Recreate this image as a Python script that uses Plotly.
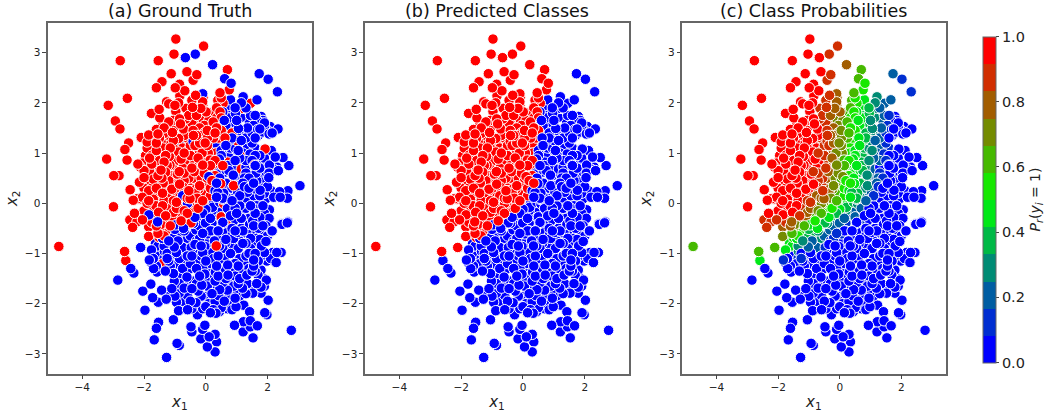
import plotly.graph_objects as go

# Points, grouped by the colour band in panel (c): (x1, x2)
p96 = [(-0.97,3.27),(-1.03,2.97),(-0.68,2.90),(-2.77,2.84),(-1.54,2.84),(-1.12,2.58),(-0.61,2.62),(-1.42,2.42),(-1.60,2.30),
 (-0.85,2.37),(-0.99,2.30),(-0.68,2.24),(-0.84,2.14),(-3.16,1.95),(-2.54,2.09),(-2.93,1.64),(-2.78,1.48),(-2.50,1.20),(-2.62,1.07),
 (-3.21,0.88),(-2.55,0.86),(-2.98,0.55),(-2.81,0.55),(-2.45,0.27),(-2.99,-0.07),(-1.76,1.79),(-1.51,1.87),(-1.49,1.70),(-1.27,2.02),
 (-1.20,1.98),(-0.97,1.83),(-1.00,1.95),(-0.88,2.00),(-0.95,1.75),(-0.85,1.68),(-1.05,1.65),(-1.60,1.47),(-1.35,1.50),(-1.02,1.52),
 (-0.82,1.58),(-0.72,1.48),(-2.09,1.31),(-1.85,1.36),(-1.72,1.28),(-1.55,1.38),(-1.35,1.39),(-1.20,1.28),(-1.08,1.41),(-0.88,1.29),
 (-0.70,1.35),(-1.90,1.22),(-1.45,1.23),(-1.60,1.20),(-1.74,0.96),(-1.45,0.96),(-1.18,0.93),(-1.04,1.09),(-1.30,1.08),(-0.88,1.02),
 (-0.75,1.10),(-1.60,1.05),(-1.90,1.10),(-0.98,0.85),(-0.80,0.88),(-0.68,0.85),(-1.35,0.82),(-1.50,0.85),(-2.05,0.80),(-2.20,0.78),
 (-2.12,0.72),(-1.92,0.73),(-1.75,0.78),(-1.56,0.76),(-1.30,0.62),(-1.16,0.76),(-1.05,0.68),(-0.92,0.58),(-0.75,0.70),(-1.45,0.66),
 (-1.82,0.63),(-1.65,0.60),(-2.00,0.51),(-2.15,0.42),(-1.88,0.40),(-1.70,0.48),(-1.56,0.42),(-1.42,0.50),(-1.20,0.45),(-1.00,0.42),
 (-0.85,0.38),(-1.75,0.30),(-1.30,0.32),(-1.10,0.28),(-0.98,0.20),(-2.35,0.06),(-2.22,0.09),(-2.16,0.08),(-2.05,0.12),(-1.96,0.13),
 (-1.85,0.05),(-1.70,0.08),(-1.56,0.15),(-1.40,0.20),(-1.25,0.12),(-1.50,0.02),(-1.62,-0.05),(-1.75,-0.08),(-2.31,-0.20),(-2.00,-0.15),
 (-1.70,-0.25),(-1.53,-0.18),(-1.30,-0.12),(-1.40,1.60),(-1.20,1.62),(-1.25,1.15),(-1.15,1.10),(-1.05,1.25),(-1.95,0.95),(-2.00,0.65),
 (-1.70,1.10),(-1.30,0.95),(-1.25,0.75),(-1.10,0.55),(-1.60,0.30),(-1.45,0.30),(-1.15,0.20),(-1.85,0.25),(-2.00,0.30),(-1.90,-0.00),
 (-1.35,0.05),(-1.85,0.15),(-1.40,-0.05),(-1.65,0.20),(-1.55,0.55),(-1.38,0.40),(-1.15,0.35),(-1.82,0.90),(-1.40,1.10),(-1.15,1.45),(-1.50,1.30)]
p88 = [(-0.07,3.13),(-0.29,2.56),(-0.41,2.45),(-0.33,2.15),(-0.64,1.89),(-0.43,1.91),(-0.55,1.75),(-0.60,1.55),(-0.41,1.45),(-0.56,1.06),
 (-0.60,1.30),(-0.50,0.95),(-0.52,0.85),(-0.86,0.63),(-0.73,0.32),(-1.02,0.21),(-0.85,0.12),(-0.70,0.45),(-0.60,0.60),(-0.62,0.20),
 (-1.15,0.00),(-0.95,0.02),(-0.72,-0.00),(-2.46,-0.33),(-2.37,-0.48),(-2.23,-0.37),(-2.05,-0.33),(-1.75,-0.38),(-1.50,-0.25),(-1.30,-0.25),
 (-1.08,-0.15),(-0.55,0.38),(-0.45,2.05),(-0.45,1.60),(-0.40,1.35),(-0.50,1.15),(-0.40,0.95),(-0.45,0.70),(-0.55,0.50),(-0.55,0.25),
 (-0.70,0.12),(-0.85,0.25),(-1.05,0.05),(-1.25,-0.05),(-1.20,0.10),(-0.35,1.15),(-0.65,1.68),(-0.70,1.00),(-0.70,0.60),(-0.85,0.50)]
p79 = [(-0.09,2.11),(-0.16,1.89),(0.01,1.82),(-0.16,1.68),(-0.30,1.75),(-0.26,1.05),(-0.30,1.35),(-0.20,1.50),(-0.35,0.75),(-0.37,0.63),
 (-0.40,0.50),(-0.51,0.09),(-0.30,0.30),(-0.60,-0.05),(-0.95,-0.10),(-0.80,-0.05),(-1.40,-0.17),(-1.10,-0.28),(-1.85,-0.47),(-1.60,-0.45),
 (-1.30,-0.35),(-0.45,-0.02),(-0.20,1.20),(-0.10,1.95),(-0.25,1.60),(-0.15,1.35),(-0.20,1.05),(-0.25,0.90),(-0.20,0.70),(-0.28,0.45),
 (-0.35,0.20),(-0.45,0.10),(-0.60,0.10),(-0.75,-0.10),(-1.25,-0.25),(-1.05,-0.18),(-1.60,-0.30),(-0.15,1.75),(-0.10,2.02),(-0.30,1.45)]
p71 = [(0.06,1.31),(0.11,1.43),(-0.10,0.76),(-0.23,0.28),(-0.05,0.40),(-1.85,-0.66),(-0.05,1.55),(-0.02,1.20),(-0.12,1.00),(-0.08,1.65),
 (-0.28,0.10),(-0.55,-0.18),(-0.35,-0.08),(-1.20,-0.42),(0.10,1.65),(0.05,1.45),(0.08,1.00),(0.00,0.85),(-0.05,0.60),(-0.15,0.50),
 (-0.20,0.35),(-0.30,0.02),(-0.50,-0.08),(-0.70,-0.15),(-0.90,-0.25),(-1.05,-0.30),(-1.45,-0.42),(-1.50,-0.52),(0.05,1.15),(-0.05,1.40)]
p63 = [(0.70,2.66),(0.46,2.20),(0.39,2.05),(0.24,1.62),(0.14,0.86),(-1.29,-0.55),(-4.76,-0.86),(-2.63,-0.96),(0.20,1.10),(0.05,0.70),
 (-0.05,0.18),(-0.10,0.05),(-0.20,-0.12),(0.16,1.80),(-1.55,-0.60),(0.15,1.35),(0.30,1.40),(0.25,1.30),(0.10,1.00),(0.15,0.75),
 (0.05,0.50),(-0.08,0.30),(-0.20,0.02),(-0.45,-0.12),(-0.60,-0.20),(-0.85,-0.30),(-1.00,-0.40),(-1.15,-0.45),(0.35,1.90),(0.25,1.20)]
p54 = [(0.76,2.26),(0.56,1.99),(0.46,1.82),(0.33,1.00),(0.25,0.70),(0.15,0.30),(0.08,0.12),(-0.25,-0.10),(-0.50,-0.25),(-1.10,-0.50),
 (-1.35,-0.65),(-1.51,-0.68),(0.35,1.50),(0.50,2.10),(0.45,1.65),(0.50,1.45),(0.42,1.30),(0.40,1.15),(0.30,0.85),(0.30,0.55),(0.20,0.45),
 (0.15,0.15),(-0.10,-0.05),(-0.35,-0.18),(-0.60,-0.28),(-0.80,-0.35),(-0.95,-0.38),(-1.30,-0.55),(0.50,1.70),(0.35,1.70)]
p46 = [(0.80,2.06),(0.55,1.82),(0.65,1.55),(0.57,1.26),(0.44,0.88),(0.35,0.58),(0.30,0.25),(0.25,0.05),(-0.21,-0.05),(-0.97,-0.43),
 (-1.19,-0.41),(-0.72,-0.50),(-0.45,-0.35),(-1.63,-0.80),(-1.76,-0.93),(0.50,1.05),(0.70,1.90),(0.75,1.70),(0.60,1.45),(0.65,1.15),
 (0.50,0.95),(0.50,0.65),(0.45,0.50),(0.40,0.30),(0.35,0.12),(0.00,-0.12),(-0.15,-0.22),(-0.35,-0.28),(-0.60,-0.40),(-1.00,-0.48),
 (-1.40,-0.70),(-1.55,-0.85),(0.60,1.65)]
p38 = [(0.96,1.79),(0.76,0.91),(0.63,0.62),(0.79,1.26),(0.72,1.45),(0.39,0.21),(0.22,-0.08),(-1.08,-0.68),(0.58,0.20),(0.65,1.05),
 (-0.90,-0.60),(0.70,0.75),(0.90,1.60),(0.85,1.30),(0.80,1.10),(0.85,0.95),(0.75,0.65),(0.65,0.40),(0.55,0.10),(0.45,0.02),(0.10,-0.10),
 (-0.10,-0.20),(-0.30,-0.30),(-0.60,-0.42),(-1.00,-0.52),(-1.30,-0.75),(0.95,1.90),(0.80,1.75)]
p29 = [(1.03,1.29),(1.06,1.49),(1.21,2.12),(1.14,1.71),(0.89,0.56),(0.09,-0.20),(-0.79,-0.61),(0.95,1.10),(0.78,0.30),(0.95,0.85),
 (-1.34,-0.96),(-0.60,-0.70),(1.15,2.00),(1.10,1.95),(1.00,1.65),(1.00,1.40),(0.95,1.25),(1.05,1.05),(1.00,0.70),(0.90,0.45),(0.85,0.30),
 (0.70,0.10),(0.55,0.08),(0.20,-0.15),(0.00,-0.30),(-0.40,-0.40),(-0.70,-0.55),(-1.20,-0.75),(-1.35,-0.85),(1.10,1.35)]
p21 = [(1.73,2.58),(1.66,2.06),(1.41,1.63),(1.03,0.23),(1.14,0.70),(0.85,0.05),(-0.01,-0.39),(-0.32,-0.53),(-1.02,-0.87),(-0.75,-0.88),
 (1.20,1.00),(1.25,0.50),(0.60,-0.20),(1.15,1.25),(1.30,1.90),(1.45,1.75),(1.35,1.50),(1.30,1.30),(1.25,1.15),(1.30,0.85),(1.15,0.55),
 (1.20,0.40),(1.00,0.35),(0.90,0.10),(0.70,-0.10),(0.45,-0.15),(0.15,-0.30),(-0.20,-0.45),(-0.50,-0.65),(-0.90,-0.75),(-1.20,-0.85),
 (1.35,1.10),(1.10,0.90)]
p13 = [(2.02,2.47),(2.32,2.22),(1.68,1.47),(1.71,0.52),(1.25,0.33),(1.43,0.98),(0.31,-0.41),(-0.47,-0.88),(-1.35,-1.10),(-1.83,-1.13),
 (0.06,-0.61),(1.50,1.20),(1.40,0.50),(1.05,-0.05),(0.70,-0.30),(-0.20,-0.70),(1.55,1.55),(1.60,1.75),(1.50,1.40),(1.60,1.10),(1.50,0.85),
 (1.45,0.75),(1.55,0.60),(1.30,0.30),(1.25,0.15),(1.10,0.15),(0.95,-0.15),(0.80,-0.15),(0.55,-0.40),(0.20,-0.40),(-0.10,-0.60),(-0.30,-0.75),
 (-0.65,-0.95),(-1.25,-1.10),(1.35,0.85),(1.55,1.30),(1.30,0.60),(0.40,-0.25)]
p04 = [(1.79,1.73),(1.90,1.60),(1.72,1.62),(1.75,1.48),(1.85,1.42),(2.08,1.53),(2.34,1.48),(2.00,1.45),(2.15,1.40),(1.90,1.08),(2.12,1.05),
 (2.25,0.92),(2.50,0.91),(2.69,0.75),(2.06,0.76),(2.20,0.68),(2.04,0.51),(3.05,0.35),(2.66,0.25),(2.64,0.10),(2.39,0.23),(2.41,0.12),
 (2.20,0.12),(1.93,0.08),(1.76,0.26),(1.65,-0.05),(2.06,-0.13),(2.66,-0.37),(2.47,-0.42),(2.15,-0.55),(1.52,-0.35),(2.12,0.25),(2.00,0.33),
 (1.95,0.62),(1.85,0.80),(1.75,0.95),(2.30,0.72),(2.35,0.65),(1.62,0.28),(1.50,0.10),(1.35,0.22),(1.82,0.42),(1.55,0.40),(1.90,0.20),
 (1.70,0.05),(1.45,-0.05),(1.30,-0.10),(1.20,0.05),(1.05,0.10),(1.30,0.10),(1.00,-0.20),(1.15,-0.30),(1.30,-0.25),(1.60,-0.20),(1.75,-0.28),
 (1.85,-0.45),(0.75,-0.15),(0.90,-0.35),(0.55,-0.38),(1.42,-0.42),(1.70,-0.50),(1.95,-0.45),(2.05,-0.30),(0.40,-0.55),(0.85,-0.50),
 (1.06,-0.28),(1.03,-0.58),(1.33,-0.60),(1.55,-0.60),(0.20,-0.55),(0.44,-0.60),(0.65,-0.72),(0.90,-0.70),(1.10,-0.75),(1.30,-0.80),
 (1.58,-0.76),(1.95,-0.76),(2.14,-0.56),(2.45,-0.41),(2.64,-0.39),(1.75,-0.72),(1.85,-0.60),(0.28,-0.75),(0.05,-0.80),(-0.15,-0.85),
 (0.63,-0.80),(0.85,-0.85),(1.20,-0.80),(1.45,-0.90),(1.67,-0.94),(1.90,-0.98),(2.17,-0.98),(2.30,-0.98),(2.44,-0.98),(1.98,-1.15),
 (2.28,-1.18),(2.10,-1.10),(1.55,-1.13),(1.30,-1.05),(1.00,-1.03),(0.80,-1.00),(0.50,-0.98),(0.28,-0.93),(-0.03,-0.86),(-0.30,-1.00),
 (-0.60,-1.05),(-0.85,-1.10),(-1.10,-1.05),(-0.95,-0.98),(-0.26,-1.14),(0.00,-1.15),(0.25,-1.10),(0.50,-1.15),(0.71,-1.23),(0.95,-1.20),
 (1.20,-1.24),(1.40,-1.30),(1.79,-1.33),(0.35,-1.25),(-1.69,-1.30),(-1.58,-1.37),(-1.31,-1.35),(-1.15,-1.25),(-0.91,-1.21),(-0.75,-1.30),
 (-0.54,-1.31),(-0.30,-1.30),(-0.10,-1.30),(0.12,-1.35),(0.31,-1.37),(0.50,-1.40),(0.72,-1.43),(0.95,-1.45),(1.15,-1.38),(1.33,-1.43),
 (1.69,-1.43),(1.85,-1.49),(1.96,-1.53),(1.75,-1.52),(1.50,-1.35),(-1.02,-1.55),(-0.80,-1.48),(-0.61,-1.47),(-0.40,-1.55),(-0.20,-1.45),
 (-0.03,-1.41),(0.10,-1.50),(0.30,-1.55),(0.55,-1.58),(0.80,-1.55),(1.05,-1.60),(1.20,-1.55),(-0.13,-1.63),(0.05,-1.65),(0.25,-1.66),
 (0.45,-1.72),(0.70,-1.73),(0.92,-1.73),(1.19,-1.69),(1.49,-1.67),(1.79,-1.67),(1.52,-1.79),(1.79,-1.79),(-0.70,-1.69),(-0.86,-1.79),
 (-0.45,-1.70),(-0.25,-1.75),(-1.78,-1.61),(-2.04,-1.75),(-1.43,-1.73),(-1.25,-1.78),(-1.28,-1.91),(-0.95,-1.97),(-1.72,-1.88),
 (-1.54,-1.97),(-1.97,-2.13),(-0.88,-2.14),(-1.05,-2.32),(-1.53,-2.37),(-1.60,-2.49),(-1.67,-2.72),(-0.93,-2.79),(-0.86,-2.83),
 (-1.27,-3.07),(-0.48,-2.46),(-0.45,-2.56),(-0.03,-2.43),(-0.10,-2.51),(-0.16,-2.70),(0.11,-2.66),(0.30,-2.61),(0.35,-2.76),(0.05,-2.86),
 (0.30,-2.96),(0.93,-2.43),(1.22,-2.36),(1.21,-2.56),(1.44,-2.34),(1.44,-2.46),(1.67,-2.44),(1.53,-2.68),(2.77,-2.53),(1.91,-2.18),
 (1.98,-2.22),(2.02,-1.93),(1.42,-2.16),(1.23,-2.03),(0.98,-2.06),(0.87,-1.99),(-0.27,-2.22),(-0.59,-2.12),(-0.32,-1.98),(0.04,-1.85),
 (0.24,-2.12),(0.44,-2.16),(0.33,-2.19),(0.00,-2.06),(-0.59,-1.84),(0.42,-1.84),(0.44,-1.93),(0.95,-1.89),(-2.43,-1.30),(-2.33,-1.39),
 (-2.85,-1.53),(-1.75,-1.20),(-1.45,-1.20),(-1.20,-1.15),(1.55,0.15),(1.40,0.30),(1.62,0.60),(1.80,0.60),(1.60,0.95),(1.85,0.30),
 (1.45,0.70),(1.30,0.72),(1.20,0.20),(0.95,-0.10),(0.55,-0.55),(0.10,-1.00),(-0.50,-1.20),(1.10,-1.10),(1.60,-1.00),(0.65,-1.05),
 (0.15,-0.75),(-0.35,-0.82),(-0.65,-0.90),(-0.85,-0.92),(-1.25,-1.00),(-1.55,-1.05),(-1.70,-1.10),(-1.60,-1.25),(-1.40,-1.05),(-1.05,-1.40),
 (-0.70,-1.15),(-0.45,-1.05),(-0.15,-1.05),(0.10,-1.20),(0.40,-1.05),(0.60,-1.30),(0.85,-1.35),(1.05,-1.25),(1.30,-1.20),(1.55,-1.25),
 (1.70,-1.15),(1.80,-1.05),(1.40,-1.00),(1.05,-0.90),(0.75,-0.90),(0.45,-0.85),(0.70,-0.60),(1.20,-0.55),(1.45,-0.70),(1.65,-0.70),
 (1.80,-0.85),(2.00,-0.65),(0.95,-0.55),(0.55,-0.90),(0.20,-0.95),(-0.10,-0.98),(-0.85,-1.60),(-0.55,-1.60),(-0.30,-1.60),(0.00,-1.55),
 (0.40,-1.45),(0.65,-1.50),(0.90,-1.65),(1.10,-1.50),(1.35,-1.60),(1.65,-1.60),(1.60,-1.35),(1.90,-1.65),(-1.10,-1.70),(-1.00,-1.85),
 (-0.75,-1.95),(-0.50,-1.95),(-0.15,-1.85),(0.20,-1.80),(0.30,-1.95),(0.10,-2.00),(0.60,-1.95),(0.75,-1.85),(1.10,-1.85),(1.30,-1.80),
 (-0.10,-2.10),(0.15,-2.18),(0.50,-2.08),(0.70,-2.10),(0.85,-2.12),(-0.45,-2.10),(1.60,0.75),(1.75,0.70),(1.90,0.90),(2.05,0.60),(1.65,0.45),
 (1.45,0.30),(1.75,0.15),(1.95,0.38),(1.85,-0.05),(1.55,-0.10),(1.25,-0.15),(1.10,-0.05),(1.40,-0.30),(1.15,-0.50),(1.55,-0.45),(1.90,-0.20),
 (0.80,-0.25),(1.90,1.52),(1.85,1.65),(2.05,1.38),(1.70,1.35),(1.60,1.30),(0.35,-0.70),(0.50,-0.72),(0.15,-0.55)]

band_points = [p04, p13, p21, p29, p38, p46, p54, p63, p71, p79, p88, p96]
band_probs = [0.04, 0.125, 0.21, 0.29, 0.375, 0.46, 0.54, 0.63, 0.71, 0.79, 0.875, 0.96]

# Points whose true class differs from the predicted one: x1, x2, probability
flip_x1 = [-0.66,-0.34,0.22,0.61,0.82,-0.10,-0.85,-0.41,-0.53,0.10,-1.55,-1.39,-1.84,-0.61,-1.56,-2.11,0.30,-0.75,-0.65,-0.50,
 -0.59,-2.59,0.48,1.20,1.45,0.85,1.04,1.27,1.92,2.18,1.58,1.15,0.77,0.58,0.66,0.34,1.10,-0.17,-0.48,-1.39,1.13,1.00,0.90,0.62,0.70,0.95,0.55,0.50,
 0.35,0.60,0.30,0.90]
flip_x2 = [2.90,2.97,2.76,2.48,2.39,2.18,1.26,1.23,1.00,0.53,0.33,-0.01,-0.23,-0.21,-0.37,-0.88,1.20,0.15,0.10,0.25,
 0.00,-1.14,0.39,1.89,1.99,1.40,1.19,1.20,1.08,0.72,0.76,0.68,0.41,-0.01,-0.42,-0.85,0.96,-0.05,-0.39,-1.20,0.96,1.25,1.15,1.30,0.82,0.75,0.75,-0.27,
 0.40,1.70,-0.35,0.35]
flip_prob = [0.96,0.875,0.79,0.63,0.54,0.79,0.96,0.875,0.875,0.71,0.96,0.875,0.96,0.63,0.79,0.63,0.54,0.79,0.79,0.79,
 0.71,0.46,0.46,0.29,0.21,0.375,0.29,0.21,0.04,0.04,0.125,0.21,0.375,0.29,0.125,0.04,0.21,0.46,0.375,0.04,0.21,0.29,0.375,0.46,0.375,0.29,0.46,0.21,
 0.54,0.46,0.21,0.29]

titles = ["(a) Ground Truth", "(b) Predicted Classes", "(c) Class Probabilities"]
x_ticks = [-4, -2, 0, 2]
y_ticks = [-3, -2, -1, 0, 1, 2, 3]
cbar_ticks = [0.0, 0.2, 0.4, 0.6, 0.8, 1.0]
band_colors = ["rgb(0,0,255)","rgb(0,46,209)","rgb(0,93,162)","rgb(0,139,116)","rgb(0,185,70)","rgb(0,232,23)",
               "rgb(23,232,0)","rgb(70,185,0)","rgb(116,139,0)","rgb(162,93,0)","rgb(209,46,0)","rgb(255,0,0)"]

rows = []
for pts, pr in zip(band_points, band_probs):
    for a, b in pts:
        rows.append((a, b, pr, 1 if pr > 0.5 else 0))
for a, b, pr in zip(flip_x1, flip_x2, flip_prob):
    rows.append((a, b, pr, 0 if pr > 0.5 else 1))
# scatter draw order only: mixes classes the way the reference overlaps them
order = sorted(range(len(rows)), key=lambda i: (i * 2654435761) % 4294967296)
rows = [rows[i] for i in order]
x1 = [r[0] for r in rows]
x2 = [r[1] for r in rows]
prob = [r[2] for r in rows]
truth = [r[3] for r in rows]
pred = [1 if p > 0.5 else 0 for p in prob]

W, H = 1048, 412
FONT = "DejaVu Sans"
lefts = [47.7, 364.7, 682.0]
rights = [312.0, 629.3, 945.7]
top, bottom = 23.0, 373.5
xr = [-5.12, 3.44]
yr = [-3.39, 3.59]

fig = go.Figure()
marker_base = dict(size=10.5, line=dict(color="white", width=1))
cname = lambda v: "red" if v else "blue"
fig.add_trace(go.Scatter(x=x1, y=x2, mode="markers", xaxis="x", yaxis="y", showlegend=False,
                         marker=dict(color=[cname(v) for v in truth], **marker_base)))
fig.add_trace(go.Scatter(x=x1, y=x2, mode="markers", xaxis="x2", yaxis="y2", showlegend=False,
                         marker=dict(color=[cname(v) for v in pred], **marker_base)))
fig.add_trace(go.Scatter(x=x1, y=x2, mode="markers", xaxis="x3", yaxis="y3", showlegend=False,
                         marker=dict(color=prob, coloraxis="coloraxis", **marker_base)))

scale = []
n = len(band_colors)
for i, c in enumerate(band_colors):
    scale += [[i / n, c], [(i + 1) / n, c]]

layout = dict(width=W, height=H, margin=dict(l=0, r=0, t=0, b=0), plot_bgcolor="white", paper_bgcolor="white",
              font=dict(family=FONT, size=10, color="#222"),
              coloraxis=dict(cmin=0, cmax=1, colorscale=scale,
                             colorbar=dict(x=982.7 / W, xanchor="left", xpad=0, y=1 - 199.5 / H, yanchor="middle", ypad=0,
                                           thickness=13, thicknessmode="pixels", len=325.6, lenmode="pixels",
                                           tickvals=cbar_ticks, ticktext=["%.1f" % v for v in cbar_ticks],
                                           ticks="outside", ticklen=3, tickcolor="#444", tickfont=dict(size=14.5, family=FONT),
                                           outlinecolor="#666", outlinewidth=1,
                                           title=dict(text="<i>P<sub>r</sub></i>(<i>y<sub>i</sub></i> = 1)", side="right",
                                                      font=dict(size=14, family=FONT)))))
annotations = []
for i in range(3):
    s = "" if i == 0 else str(i + 1)
    layout["xaxis" + s] = dict(domain=[lefts[i] / W, rights[i] / W], range=xr, anchor="y" + s, tickvals=x_ticks,
                               ticktext=["\u2212%d" % -v if v < 0 else str(v) for v in x_ticks], ticks="outside", ticklen=3.5,
                               tickcolor="#444", showgrid=False, zeroline=False, showline=True, linecolor="#666", linewidth=1.5,
                               mirror=True, tickfont=dict(size=10.5, family=FONT),
                               title=dict(text="<i>x</i><sub>1</sub>", standoff=4, font=dict(size=15, family=FONT)))
    layout["yaxis" + s] = dict(domain=[1 - bottom / H, 1 - top / H], range=yr, anchor="x" + s, tickvals=y_ticks,
                               ticktext=["\u2212%d" % -v if v < 0 else str(v) for v in y_ticks], ticks="outside", ticklen=3.5,
                               tickcolor="#444", showgrid=False, zeroline=False, showline=True, linecolor="#666", linewidth=1.5,
                               mirror=True, tickfont=dict(size=10.5, family=FONT),
                               title=dict(text="<i>x</i><sub>2</sub>", standoff=4, font=dict(size=15, family=FONT)))
    annotations.append(dict(text=titles[i], x=(lefts[i] + rights[i]) / 2 / W, y=1 - top / H, xref="paper", yref="paper",
                            xanchor="center", yanchor="bottom", yshift=0, showarrow=False, font=dict(size=17.5, family=FONT, color="#111")))
layout["annotations"] = annotations
fig.update_layout(**layout)
fig.write_html("out.html", config={"displayModeBar": False},
               post_script="document.body.style.margin='0';document.body.style.overflow='hidden';")
